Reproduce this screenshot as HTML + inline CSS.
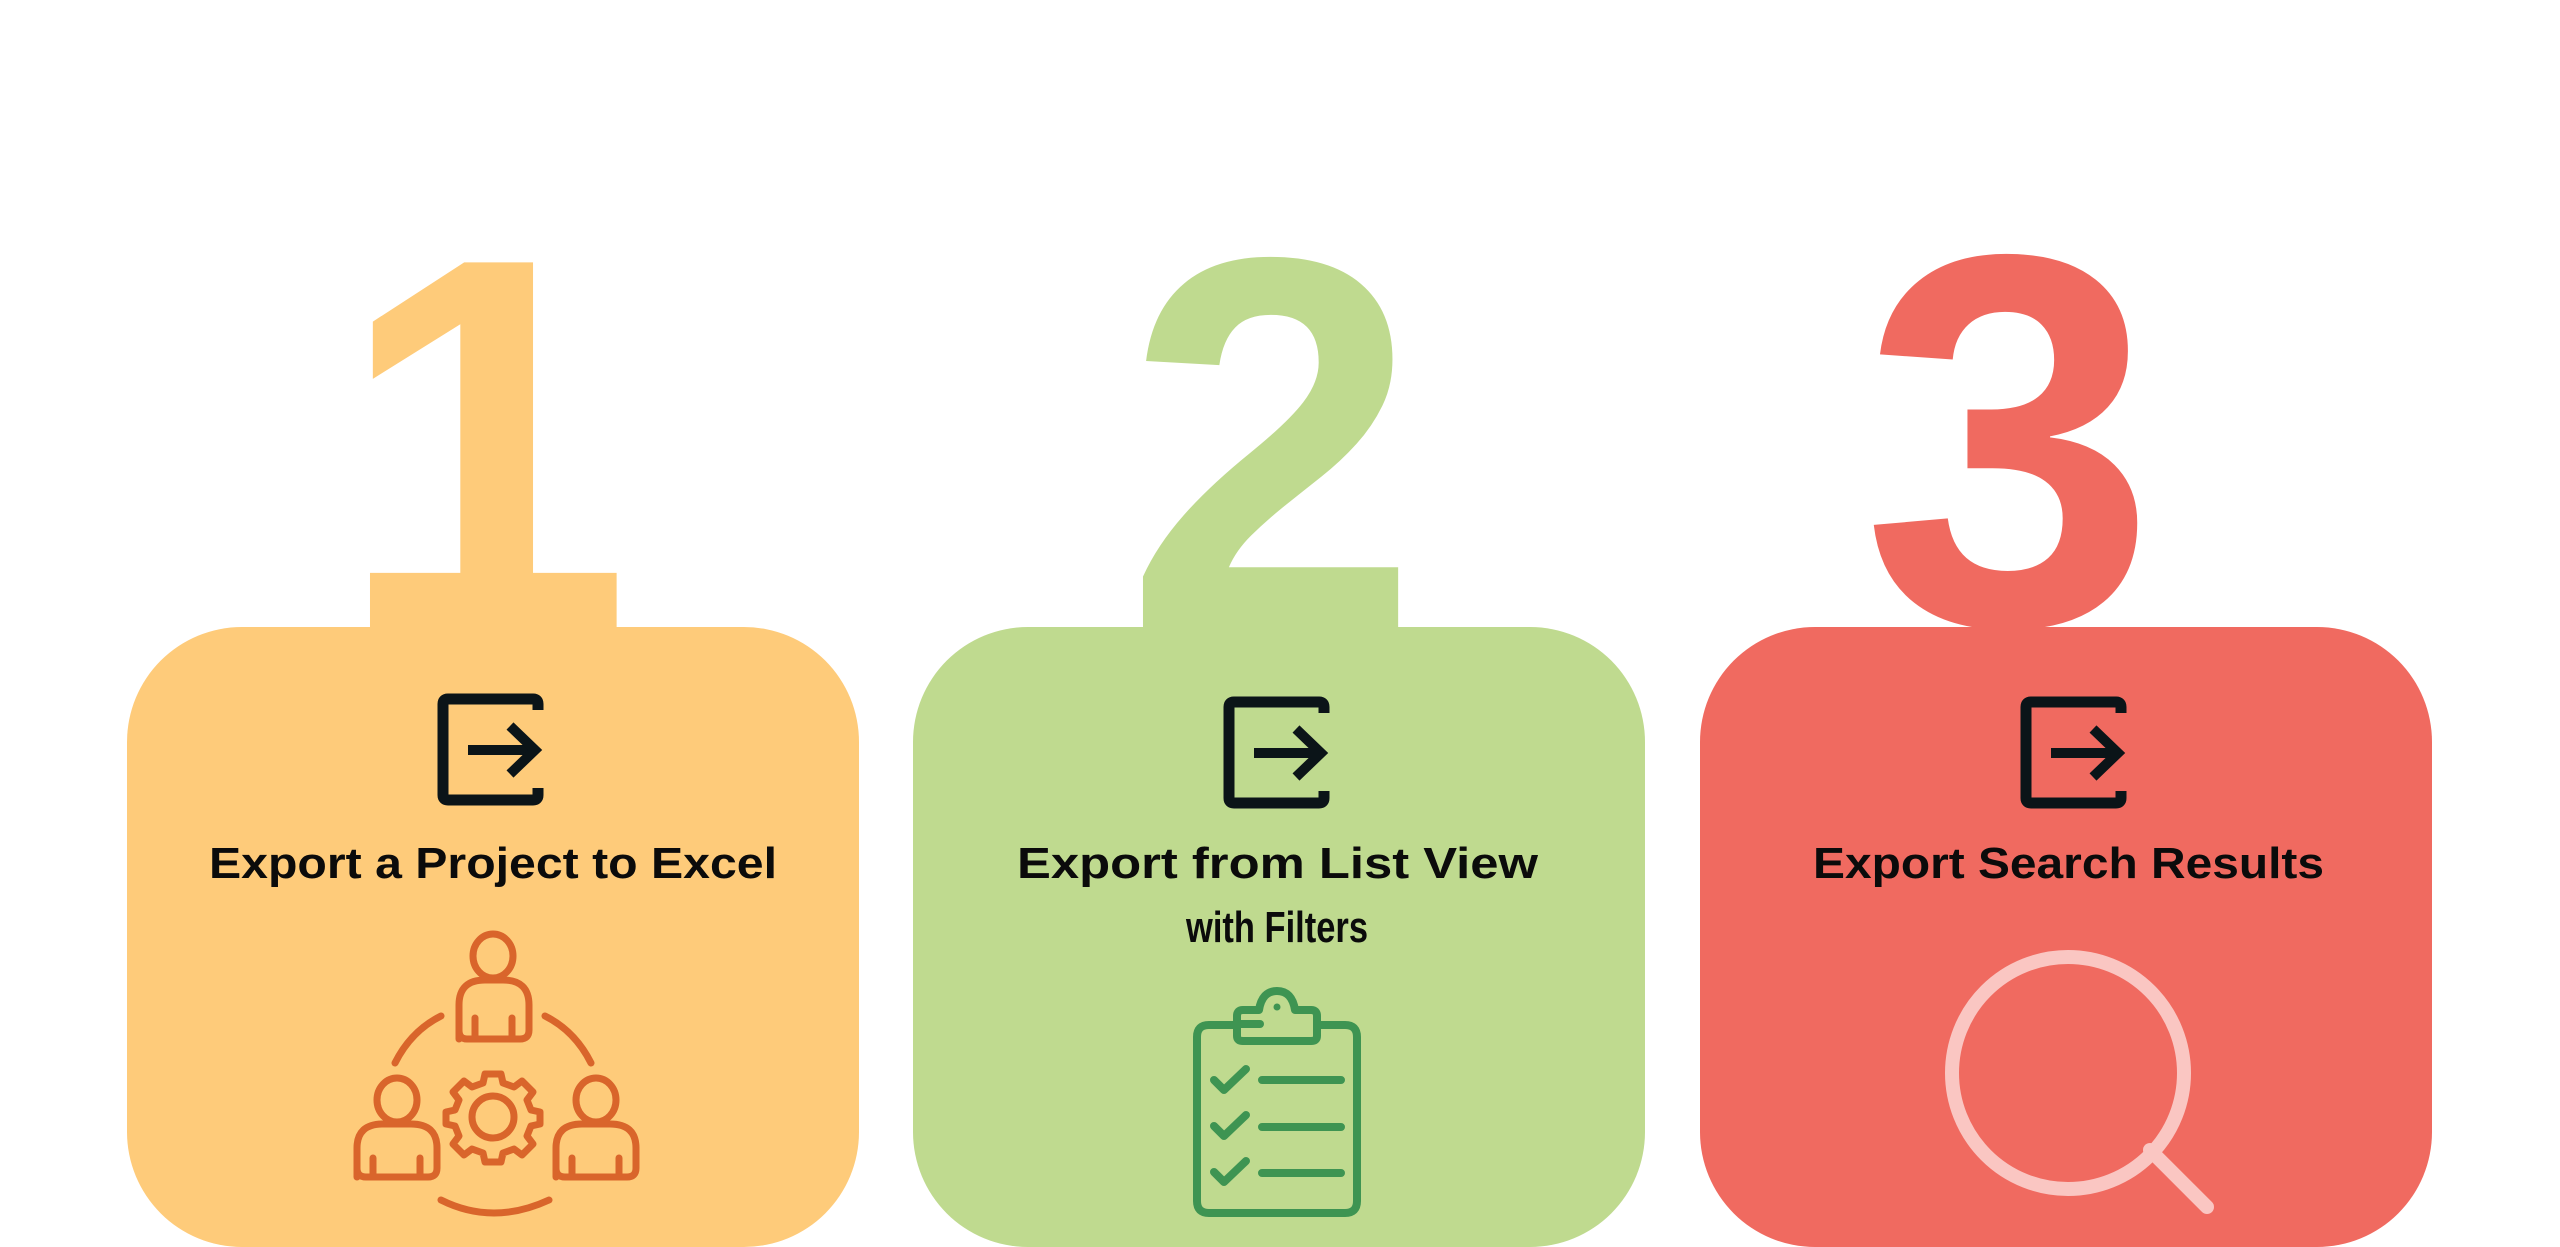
<!DOCTYPE html>
<html><head><meta charset="utf-8"><style>
html,body{margin:0;padding:0;background:#fff;width:2560px;height:1247px;overflow:hidden}
svg{display:block}
</style></head><body>
<svg width="2560" height="1247" viewBox="0 0 2560 1247" xmlns="http://www.w3.org/2000/svg">
<defs>
<g id="exp">
<path d="M100 14 V8 Q100 3 95 3 H10 Q5 3 5 8 V99 Q5 104 10 104 H95 Q100 104 100 99 V92" fill="none" stroke="#0b1418" stroke-width="11"/>
<path d="M30 54 H95" stroke="#0b1418" stroke-width="10"/>
<path d="M72 30 L97 54 L72 78" fill="none" stroke="#0b1418" stroke-width="10"/>
</g>
</defs>
<!-- numbers -->
<text x="484" y="627" font-family="Liberation Sans, sans-serif" font-weight="bold" font-size="530" fill="#FECB7A" text-anchor="middle">1</text>
<text x="1272" y="627" font-family="Liberation Sans, sans-serif" font-weight="bold" font-size="530" fill="#BFDA8F" text-anchor="middle">2</text>
<text x="2009" y="624" font-family="Liberation Sans, sans-serif" font-weight="bold" font-size="530" fill="#F06A60" text-anchor="middle">3</text>
<!-- base plate under 1 -->
<rect x="376" y="575" width="198" height="60" fill="#FECB7A"/>
<!-- cards -->
<rect x="127" y="627" width="732" height="620" rx="115" ry="115" fill="#FECB7A"/>
<rect x="913" y="627" width="732" height="620" rx="115" ry="115" fill="#BFDA8F"/>
<rect x="1700" y="627" width="732" height="620" rx="115" ry="115" fill="#F06A60"/>
<!-- export icons -->
<use href="#exp" transform="translate(438,696)"/>
<use href="#exp" transform="translate(1224,699)"/>
<use href="#exp" transform="translate(2021,699)"/>
<!-- labels -->
<g font-family="Liberation Sans, sans-serif" font-weight="bold" font-size="44" fill="#0b0b0b">
<text x="209" y="878" textLength="568" lengthAdjust="spacingAndGlyphs">Export a Project to Excel</text>
<text x="1017" y="878" textLength="521" lengthAdjust="spacingAndGlyphs">Export from List View</text>
<text x="1186" y="942" textLength="182" lengthAdjust="spacingAndGlyphs">with Filters</text>
<text x="1813" y="878" textLength="511" lengthAdjust="spacingAndGlyphs">Export Search Results</text>
</g>
<!-- people icon -->
<g fill="none" stroke="#D9652B" stroke-width="7" stroke-linecap="round" stroke-linejoin="round">
<ellipse cx="493" cy="956" rx="20" ry="22"/>
<path d="M459 1039 V1005 Q459 980 485 980 H503 Q529 980 529 1005 V1030 Q529 1039 520 1039 H467 Q459 1039 459 1030 M475 1039 V1018 M512 1039 V1018"/>
<ellipse cx="397" cy="1100" rx="20" ry="22"/>
<path d="M357 1177 V1148 Q357 1124 383 1124 H411 Q437 1124 437 1148 V1168 Q437 1177 428 1177 H366 Q357 1177 357 1168 M373 1177 V1158 M420 1177 V1158"/>
<ellipse cx="596" cy="1100" rx="20" ry="22"/>
<path d="M556 1177 V1148 Q556 1124 582 1124 H610 Q636 1124 636 1148 V1168 Q636 1177 627 1177 H565 Q556 1177 556 1168 M572 1177 V1158 M619 1177 V1158"/>
<path d="M395 1063 Q411 1031 441 1016"/>
<path d="M545 1016 Q575 1031 591 1063"/>
<path d="M441 1200 Q493 1226 549 1200"/>
<circle cx="493" cy="1117" r="21"/>
<path d="M485 1074 H501 L503 1083 L514 1087 L522 1081 L533 1092 L527 1100 L531 1110 L540 1112 V1124 L531 1126 L527 1136 L533 1144 L522 1155 L514 1149 L503 1153 L501 1162 H485 L483 1153 L472 1149 L464 1155 L453 1144 L459 1136 L455 1126 L446 1124 V1112 L455 1110 L459 1100 L453 1092 L464 1081 L472 1087 L483 1083 Z"/>
</g>
<!-- clipboard -->
<g fill="none" stroke="#3E9452" stroke-width="8" stroke-linecap="round" stroke-linejoin="round">
<path d="M1237 1025 H1209 Q1197 1025 1197 1037 V1201 Q1197 1213 1209 1213 H1345 Q1357 1213 1357 1201 V1037 Q1357 1025 1345 1025 H1317"/>
<path d="M1237 1036 V1016 Q1237 1010 1243 1010 H1259 Q1262 991 1277 991 Q1292 991 1295 1010 H1311 Q1317 1010 1317 1016 V1036 Q1317 1041 1311 1041 H1243 Q1237 1041 1237 1036 Z"/>
<path d="M1240 1024 H1260"/>
<path d="M1214 1080 L1224 1090 L1246 1069 M1214 1126 L1224 1136 L1246 1115 M1214 1172 L1224 1182 L1246 1161"/>
<path d="M1262 1080 H1341 M1262 1127 H1341 M1262 1173 H1341"/>
</g>
<circle cx="1277" cy="1007" r="3.5" fill="#3E9452"/>
<!-- magnifier -->
<g fill="none" stroke="#FAC6C2" stroke-width="14" stroke-linecap="round">
<circle cx="2068" cy="1073" r="116"/>
<path d="M2150 1150 L2207 1207"/>
</g>
</svg>
</body></html>
